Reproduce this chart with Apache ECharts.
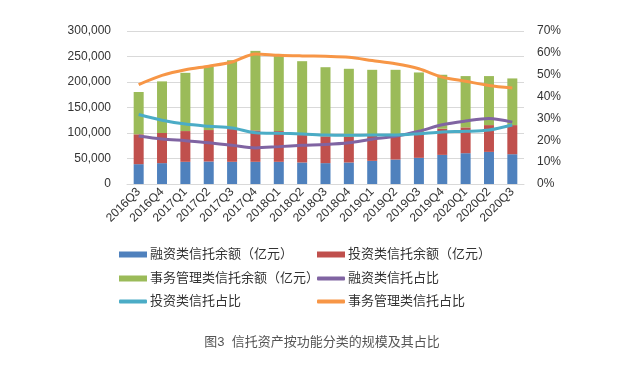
<!DOCTYPE html>
<html><head><meta charset="utf-8">
<script src="https://cdn.jsdelivr.net/npm/echarts@6/dist/echarts.min.js"></script>
<style>html,body{margin:0;padding:0;background:#fff}#c{width:644px;height:381px}</style>
</head><body><div id="c"></div>
<script>
const categories = ['2016Q3','2016Q4','2017Q1','2017Q2','2017Q3','2017Q4','2018Q1','2018Q2','2018Q3','2018Q4','2019Q1','2019Q2','2019Q3','2019Q4','2020Q1','2020Q2','2020Q3'];
// stacked bar components (亿元)
const financing = [38900,40900,43500,44100,43500,43500,43500,42200,40900,42200,45400,48000,51300,57100,60400,63000,58400];
const investment = [58500,59100,60300,61700,64200,61600,60300,53800,52600,50000,49400,48000,49900,51300,50600,52500,57100];
const affairs = [83000,101200,114200,124200,135000,155900,151200,144800,135500,133700,129100,127900,117500,105800,100600,96100,91500];
// ratios (%)
const finRatio = [22.0,20.6,19.8,18.9,17.7,16.5,17.1,17.7,18.1,18.9,20.5,21.8,24.1,27.1,28.8,30.0,28.3];
const invRatio = [31.8,29.2,27.4,26.4,25.6,23.5,23.2,22.9,22.4,22.3,22.4,22.4,23.0,23.8,24.1,24.7,27.0];
const affRatio = [45.5,49.7,52.3,53.9,55.8,59.5,58.9,58.6,58.4,58.0,56.5,55.0,52.7,48.9,47.0,45.1,43.9];
const leftTicks = [0,300000,50000];
const rightTicks = [0,70,10];

const names = ['融资类信托余额（亿元）','投资类信托余额（亿元）','事务管理类信托余额（亿元）','融资类信托占比','投资类信托占比','事务管理类信托占比'];
const colors = ['#4F81BD','#C0504D','#9BBB59','#8064A2','#4BACC6','#F79646'];
const font = '"Liberation Sans","Noto Sans CJK SC",sans-serif';

const legPos = [[119,248],[317,248],[119,272],[317,272],[119,295],[317,295]];
const legends = names.map((n,i)=>({
  data:[{name:n, icon: i<3?'rect':'roundRect'}], left:legPos[i][0], top:legPos[i][1],
  itemWidth:28, itemHeight: i<3?6:4, itemGap:0, padding:0,
  textStyle:{fontSize:13, color:'#333', fontFamily:font, padding:[0,0,0,-2]}
}));

const chart = echarts.init(document.getElementById('c'), null, {renderer:'canvas'});
const barSeries = [financing, investment, affairs].map((d,i)=>({
  name:names[i], type:'bar', stack:'total', data:d, barWidth:10,
  itemStyle:{color:colors[i]}, yAxisIndex:0
}));
const lineSeries = [finRatio, invRatio, affRatio].map((d,i)=>({
  name:names[i+3], type:'line', data:d, yAxisIndex:1, smooth:0.3, symbol:'none',
  lineStyle:{width:3, color:colors[i+3]}, itemStyle:{color:colors[i+3]}
}));

chart.setOption({
  animation:false,
  textStyle:{fontFamily:font},
  title:{text:'图3  信托资产按功能分类的规模及其占比', left:'center', top:331,
    textStyle:{fontSize:13, fontWeight:'normal', color:'#555', fontFamily:font}},
  legend: legends,
  grid:{left:127, right:120, top:31, bottom:197, containLabel:false},
  xAxis:{type:'category', data:categories, boundaryGap:true,
    axisLine:{lineStyle:{color:'#d9d9d9'}}, axisTick:{show:false},
    axisLabel:{rotate:45, fontSize:12, color:'#333', margin:6, interval:0}},
  yAxis:[
    {type:'value', min:leftTicks[0], max:leftTicks[1], interval:leftTicks[2],
     axisLine:{show:false}, axisTick:{show:false},
     splitLine:{lineStyle:{color:'#d9d9d9'}},
     axisLabel:{fontSize:12, color:'#333', margin:16,
       formatter:v=>v.toLocaleString('en-US')}},
    {type:'value', min:rightTicks[0], max:rightTicks[1], interval:rightTicks[2],
     axisLine:{show:false}, axisTick:{show:false}, splitLine:{show:false},
     axisLabel:{fontSize:12, color:'#333', margin:13, formatter:'{value}%'}}
  ],
  series: barSeries.concat(lineSeries)
});
</script></body></html>
